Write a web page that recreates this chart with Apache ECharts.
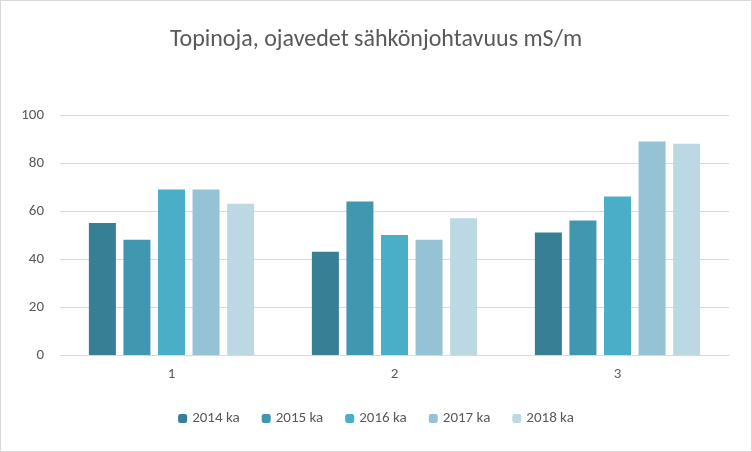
<!DOCTYPE html>
<html>
<head>
<meta charset="utf-8">
<script src="https://cdn.jsdelivr.net/npm/echarts@6/dist/echarts.min.js"></script>
<style>
  html, body { margin: 0; padding: 0; background: #fff; }
  #chart { width: 750px; height: 450px; border: 1px solid #d9d9d9; }
</style>
</head>
<body>
<div id="chart"></div>
<script>
var categories = ['1', '2', '3'];
var seriesNames = ['2014 ka', '2015 ka', '2016 ka', '2017 ka', '2018 ka'];
var values = [
  [55, 43, 51],
  [48, 64, 56],
  [69, 50, 66],
  [69, 48, 89],
  [63, 57, 88]
];
var colors = ['#367f95', '#4197b0', '#4baec8', '#95c3d5', '#bcd8e3'];

var chart = echarts.init(document.getElementById('chart'));
var series = [];
for (var i = 0; i < seriesNames.length; i++) {
  series.push({
    name: seriesNames[i],
    type: 'bar',
    data: values[i],
    barWidth: 27,
    barGap: '28%',
    itemStyle: { color: colors[i] }
  });
}
var font = 'Calibri, Carlito, "Open Sans", sans-serif';
chart.setOption({
  animation: false,
  color: colors,
  title: {
    text: 'Topinoja, ojavedet sähkönjohtavuus mS/m',
    left: 'center',
    top: 22,
    textStyle: { color: '#595959', fontSize: 24, fontWeight: 'normal', fontFamily: font }
  },
  legend: {
    bottom: 20,
    itemWidth: 9,
    itemHeight: 9,
    itemGap: 22,
    textStyle: { color: '#595959', fontSize: 15, fontFamily: font },
    data: seriesNames
  },
  grid: { left: 59, right: 22, top: 114, bottom: 96 },
  xAxis: {
    type: 'category',
    data: categories,
    axisLine: { lineStyle: { color: '#d9d9d9' } },
    axisTick: { show: false },
    axisLabel: { color: '#595959', fontSize: 15, fontFamily: font, margin: 12 }
  },
  yAxis: {
    type: 'value',
    min: 0,
    max: 100,
    interval: 20,
    axisLine: { show: false },
    axisTick: { show: false },
    splitLine: { lineStyle: { color: '#d9d9d9' } },
    axisLabel: { color: '#595959', fontSize: 15, fontFamily: font, margin: 16 }
  },
  series: series
});
</script>
</body>
</html>
